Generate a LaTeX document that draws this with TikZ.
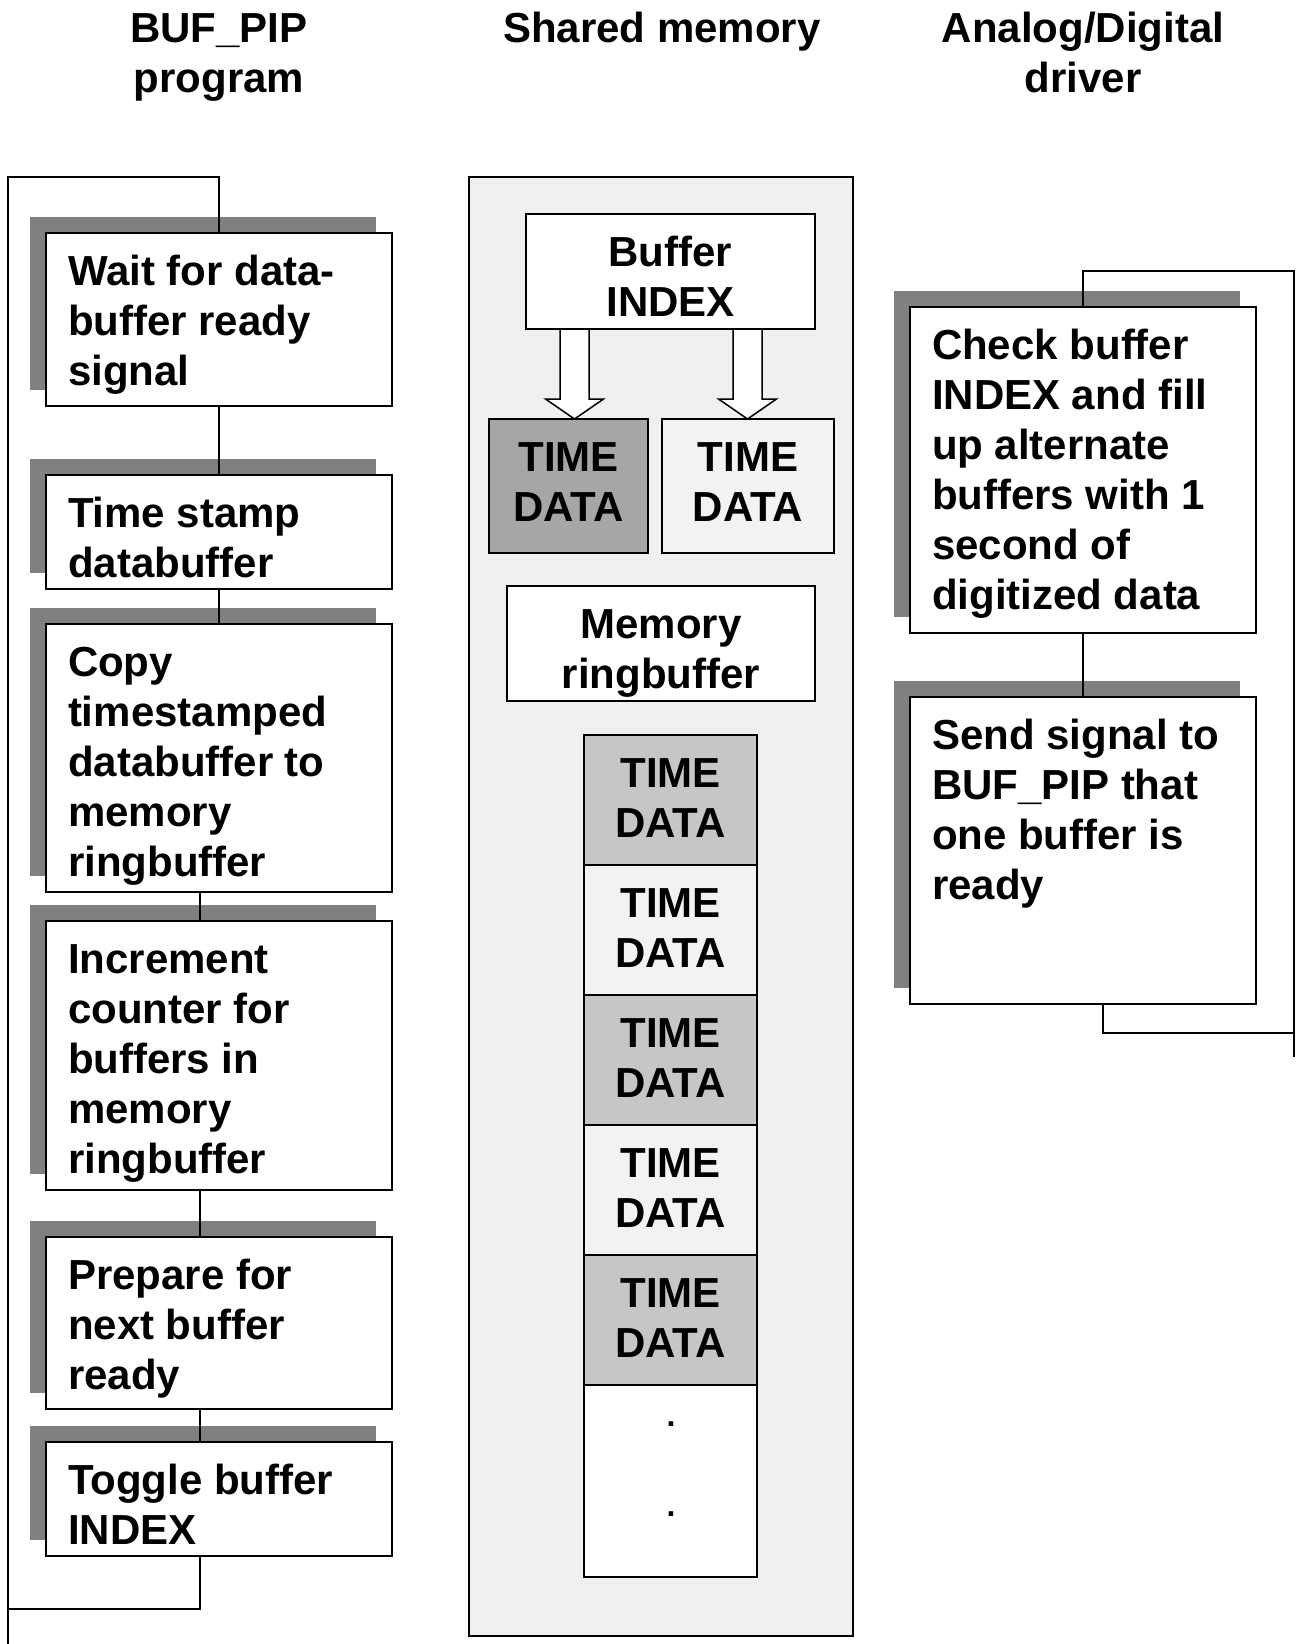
\documentclass[tikz,border=0pt]{standalone}
\usepackage{fontspec}
\setmainfont{Liberation Sans}
\usetikzlibrary{shadows}
\definecolor{shadowgray}{HTML}{808080}
\definecolor{panelgray}{HTML}{F0F0F0}
\definecolor{slotdark}{HTML}{A6A6A6}
\definecolor{slotmid}{HTML}{C6C6C6}
\definecolor{slotlight}{HTML}{F2F2F2}
\newcommand{\boxfont}{\fontsize{42}{50}\selectfont\bfseries}
\newcommand{\dotfont}{\fontsize{32}{36}\selectfont\bfseries}
\newcommand{\taskbox}[3]{node[procbox] (#1) {\parbox[t][#2pt][t]{302pt}{\raggedright\strut #3}}}
\newcommand{\memslot}[5]{node[slotbox, fill=#2] (#1) {\parbox[t][#4pt][t]{#3pt}{\centering\strut #5}}}
\newcommand{\hollowarrow}[2]{%
  \coordinate (#1tip) at (#1 |- #2.north);
  \draw[fatarrow] ([xshift=-14.5pt]#1) -- ([xshift=-14.5pt,yshift=20pt]#1tip) -- ([xshift=-29pt,yshift=20pt]#1tip) -- (#1tip)
    -- ([xshift=29pt,yshift=20pt]#1tip) -- ([xshift=14.5pt,yshift=20pt]#1tip) -- ([xshift=14.5pt]#1) -- cycle;}

\begin{document}
\begin{tikzpicture}[
      x=1pt, y=-1pt,
      link/.style={line width=1.6pt, draw=black},
      procbox/.style={rectangle, draw=black, fill=white, line width=1.8pt, anchor=north west,
        inner xsep=22pt, inner ysep=17pt, outer sep=0pt, font=\boxfont,
        drop shadow={shadow xshift=-16pt, shadow yshift=16.5pt, opacity=1, fill=shadowgray}},
      slotbox/.style={rectangle, draw=black, line width=1.8pt, anchor=north west,
        inner xsep=0pt, inner ysep=17pt, outer sep=0pt, font=\boxfont},
      panel/.style={rectangle, draw=black, fill=panelgray, line width=2pt, anchor=north west, outer sep=0pt},
      header/.style={anchor=north, align=center, inner sep=0pt, font=\boxfont},
      fatarrow/.style={draw=black, fill=white, line width=1.5pt, line join=miter},
      ellipsisdot/.style={inner sep=0pt, font=\dotfont}
      ]
      \useasboundingbox (0,0) rectangle (1297,1644);

      \node[header] (hbuf) at (219,7) {\strut BUF\_PIP\\program};
      \node[header] (hmem) at (662,7) {\strut Shared memory};
      \node[header] (hdrv) at (1083,7) {\strut Analog/Digital\\driver};

      \path (46,233) \taskbox{wait}{139}{Wait for data-\\buffer ready\\signal};
      \path (46,475) \taskbox{stamp}{80}{Time stamp\\databuffer};
      \path (46,624) \taskbox{copy}{234}{Copy\\timestamped\\databuffer to\\memory\\ringbuffer};
      \path (46,921) \taskbox{incr}{235}{Increment\\counter for\\buffers in\\memory\\ringbuffer};
      \path (46,1237) \taskbox{prep}{138}{Prepare for\\next buffer\\ready};
      \path (46,1442) \taskbox{toggle}{80}{Toggle buffer\\INDEX};

      \draw[link] (wait.south) -- (stamp.north);
      \draw[link] (stamp.south) -- (copy.north);
      \foreach \a/\b in {copy/incr,incr/prep,prep/toggle}
        \draw[link] ([xshift=-19pt]\a.south) -- ([xshift=-19pt]\b.north);
      \coordinate (loopTL) at (8,177);
      \coordinate (loopBL) at (8,1644);
      \coordinate (loopB) at (8,1609);
      \draw[link] (wait.north) |- (loopTL) -- (loopBL);
      \draw[link] ([xshift=-19pt]toggle.south) |- (loopB);

      \path (469,177) node[panel, minimum width=384pt, minimum height=1459pt] (shmem) {};
      \path (526,214) \memslot{bufidx}{white}{289}{81}{Buffer\\INDEX};
      \path (489,419) \memslot{tdA}{slotdark}{159}{100}{TIME\\DATA};
      \path (662,419) \memslot{tdB}{slotlight}{172}{100}{TIME\\DATA};
      \coordinate (arrA) at ([xshift=-96pt]bufidx.south);
      \coordinate (arrB) at ([xshift=77pt]bufidx.south);
      \hollowarrow{arrA}{tdA}
      \hollowarrow{arrB}{tdB}
      \path (507,586) \memslot{memrb}{white}{308}{81}{Memory\\ringbuffer};
      \foreach \i/\shade in {0/slotmid,1/slotlight,2/slotmid,3/slotlight,4/slotmid}
        \path (584,{735+130*\i}) \memslot{ring\i}{\shade}{173}{96}{TIME\\DATA};
      \path (584,1385) \memslot{ring5}{white}{173}{158}{};
      \node[ellipsisdot] (dotA) at (671,1424) {.};
      \node[ellipsisdot] (dotB) at (671,1514) {.};

      \path (910,307) \taskbox{check}{292}{Check buffer\\INDEX and fill\\up alternate\\buffers with 1\\second of\\digitized data};
      \path (910,697) \taskbox{send}{273}{Send signal to\\BUF\_PIP that\\one buffer is\\ready};
      \draw[link] (check.south) -- (send.north);
      \coordinate (loopTR) at (1294,271);
      \coordinate (loopBR) at (1294,1057);
      \coordinate (loopR) at (1294,1033);
      \draw[link] (check.north) |- (loopTR) -- (loopBR);
      \draw[link] ([xshift=20pt]send.south) |- (loopR);
    \end{tikzpicture}
\end{document}
